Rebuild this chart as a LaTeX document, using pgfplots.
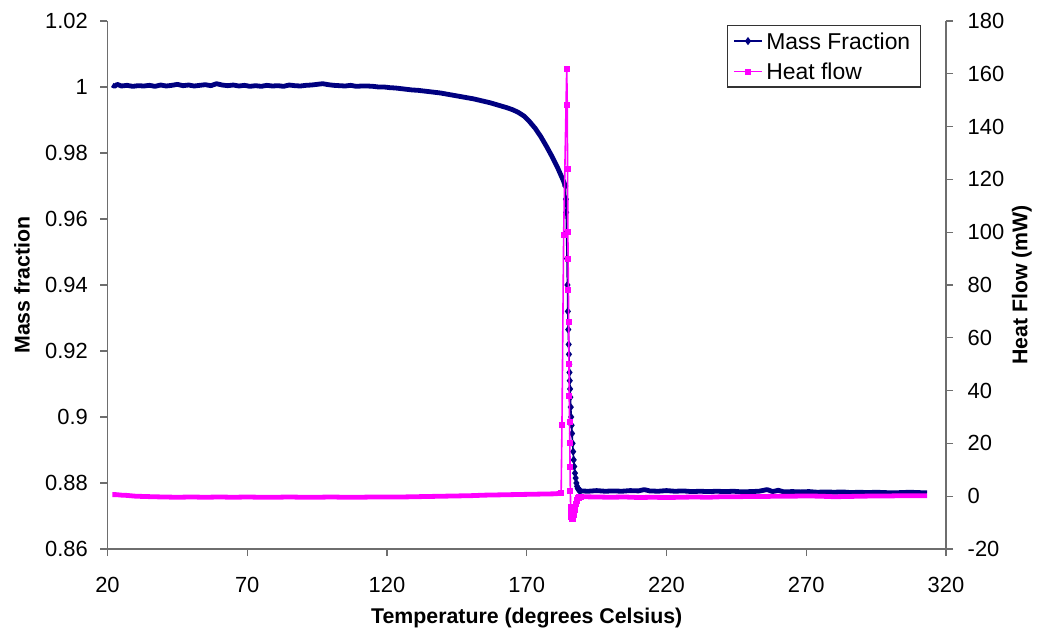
\documentclass[border=0pt]{standalone}
\usepackage{pgfplots}
\pgfplotsset{compat=1.18}
\usepackage{fontspec}
\setmainfont{Liberation Sans}
\definecolor{navy}{RGB}{0,0,128}
\definecolor{mag}{RGB}{255,0,255}
\definecolor{axgray}{RGB}{110,110,110}
\newcommand{\chartfont}{\fontsize{11}{13.2}\selectfont}
\newcommand{\labelfont}{\fontsize{10.7}{12.8}\selectfont\bfseries}
\newcommand{\legfont}{\fontsize{11.5}{13.8}\selectfont}
\begin{document}
\chartfont
\begin{tikzpicture}
\useasboundingbox (-53.75bp,-42bp) rectangle (464.75bp,274.5bp);
\pgfplotsset{
  base/.style={
    scale only axis, width=419.25bp, height=264bp,
    at={(0,0)}, anchor=south west,
    xmin=20, xmax=320,
    tick align=outside, major tick length=3.5bp,
    axis line style={-, axgray, line width=0.6bp},
    tick style={axgray, line width=0.6bp},
    tick label style={font=\chartfont, black},
    label style={font=\labelfont},
    /pgf/number format/assume math mode=true,
    clip=false,
  }
}
\begin{axis}[base,
  ymin=0.86, ymax=1.02,
  axis x line*=bottom, axis y line*=left,
  xtick={20,70,120,170,220,270,320},
  ytick={0.86,0.88,0.9,0.92,0.94,0.96,0.98,1,1.02},
  yticklabels={0.86,0.88,0.9,0.92,0.94,0.96,0.98,1,1.02},
  xticklabel style={yshift=-6.5bp},
  yticklabel style={xshift=-2.5bp},
  xlabel={Temperature (degrees Celsius)},
  ylabel={Mass fraction},
  xlabel style={at={(axis description cs:0.5,-0.1314)}, anchor=center},
  ylabel style={at={(axis description cs:-0.102,0.5)}, anchor=center},
]
% flat start (dense data, drawn as thick band)
\addplot[navy, line width=2.4bp, line join=round, forget plot] coordinates {
(21.7,1.0006) (22.5,1.0002) (23.5,1.0008) (25,1.0003) (27,1.0005) (29,1.0002)
(31,1.0004) (33,1.0003) (35,1.0005) (37,1.0002) (39,1.0006) (41,1.0003)
(43,1.0005) (45,1.0008) (47,1.0004) (49,1.0006) (51,1.0003) (53,1.0005)
(55,1.0007) (57,1.0004) (59,1.0010) (61,1.0006) (63,1.0004) (65,1.0006)
(67,1.0003) (69,1.0005) (71,1.0002) (73,1.0004) (75,1.0002) (77,1.0005)
(79,1.0003) (81,1.0004) (83,1.0002) (85,1.0006) (87,1.0004) (89,1.0003)
(91,1.0005) (93,1.0006) (95,1.0008) (97,1.0010) (99,1.0007) (101,1.0005)
(103,1.0004) (105,1.0003) (107,1.0005) (109,1.0002) (111,1.0003) (113,1.0003)
(115,1.0002) (117,1.0000) (119,1.0000) (121,0.9998) (123,0.9997) (125,0.9995)
(127,0.9993) (129,0.9991) (131,0.9990) (133,0.9988) (135,0.9986) (137,0.9984)
(139,0.9982) (141,0.9979) (143,0.9976) (145,0.9973) (147,0.9970) (149,0.9967)
(151,0.9964) (153,0.9960) (155,0.9956) (157,0.9952) (159,0.9947) (161,0.9942)
(163,0.9937) (165,0.9931) (167,0.9923) (169,0.9912) (171,0.9895) (173,0.9875)
(175,0.9850) (177,0.9821) (179,0.9790) (181,0.9756) (182,0.9737) (183,0.9718)
(183.8,0.9700)
};
% mass loss step (sparse data, thin line with marks)
\addplot[navy, line width=0.8bp, mark=diamond*, mark size=1.4bp, forget plot] coordinates {
(183.8,0.9700) (184.0,0.9660) (184.1,0.9620) (184.25,0.9560) (184.4,0.9480)
(184.55,0.9400) (184.7,0.9320) (184.85,0.9265) (185.0,0.9220) (185.1,0.9190)
(185.2,0.9160) (185.3,0.9135) (185.4,0.9110) (185.5,0.9085) (185.6,0.9060)
(185.75,0.9030) (185.9,0.9000) (186.05,0.8975) (186.2,0.8950) (186.4,0.8920)
(186.6,0.8895) (186.8,0.8870) (187.0,0.8850) (187.25,0.8830) (187.5,0.8815)
(187.75,0.8800) (188.0,0.8790) (188.25,0.8784) (188.5,0.8780) (188.85,0.8777)
(189.2,0.8776)
};
% flat end
\addplot[navy, line width=2.4bp, line join=round, forget plot] coordinates {
(189.2,0.8776) (192,0.8775) (195,0.8777) (198,0.8775) (201,0.8776) (204,0.8775)
(207,0.8777) (210,0.8776) (212,0.8780) (214,0.8776) (217,0.8775) (220,0.8777)
(223,0.8775) (226,0.8776) (229,0.8774) (232,0.8775) (235,0.8774) (238,0.8775)
(241,0.8774) (244,0.8775) (247,0.8773) (250,0.8774) (253,0.8775) (256,0.8780)
(258,0.8774) (260,0.8778) (262,0.8773) (265,0.8774) (268,0.8773) (271,0.8774)
(274,0.8772) (277,0.8773) (280,0.8772) (283,0.8773) (286,0.8771) (289,0.8772)
(292,0.8771) (295,0.8772) (298,0.8771) (301,0.8770) (304,0.8771) (307,0.8772)
(310,0.8771) (313.2,0.8770)
};
\end{axis}
\begin{axis}[base,
  ymin=-20, ymax=180,
  axis x line=none, axis y line*=right,
  ytick={-20,0,20,40,60,80,100,120,140,160,180},
  yticklabel style={xshift=3.5bp},
  ylabel={Heat Flow (mW)},
  ylabel style={at={(axis description cs:1.0906,0.5)}, anchor=center},
  legend style={at={(0.970,0.992)}, anchor=north east, draw=black!80, fill=white,
    font=\legfont, inner xsep=3bp, inner ysep=1.5bp, row sep=3bp, line width=0.6bp,
    nodes={text depth=0pt}},
  legend cell align=left,
  legend image code/.code={\draw[mark repeat=2,mark phase=2] plot coordinates {(0cm,0cm) (0.24cm,0cm) (0.48cm,0cm)};},
]
\addlegendimage{navy, line width=0.8bp, mark=diamond*, mark size=1.4bp}
\addlegendentry{Mass Fraction}
\addlegendimage{mag, line width=0.8bp, mark=square*, mark size=1.1bp}
\addlegendentry{Heat flow}
\addplot[mag, line width=2.4bp, line join=round, forget plot] coordinates {
(21.7,0.6) (23,0.6) (25,0.4) (27,0.3) (30,0.0) (33,-0.1) (36,-0.2) (40,-0.3)
(45,-0.4) (50,-0.3) (55,-0.4) (60,-0.3) (65,-0.4) (70,-0.3) (75,-0.4) (80,-0.4)
(85,-0.3) (90,-0.4) (95,-0.4) (100,-0.3) (105,-0.4) (110,-0.4) (115,-0.3)
(120,-0.3) (125,-0.3) (130,-0.2) (135,-0.1) (140,0.0) (145,0.1) (150,0.2)
(155,0.4) (160,0.5) (165,0.6) (170,0.7) (175,0.8) (180,0.9) (182.3,1.1)
};
\addplot[mag, line width=0.8bp, mark=square*, mark size=1.1bp, forget plot] coordinates {
(182.3,1.1) (182.6,27) (183.2,99) (184.3,162) (184.5,148) (184.6,124)
(184.7,100) (184.8,90) (184.9,78) (185.0,66) (185.1,50) (185.2,38)
(185.3,28) (185.4,20) (185.5,11) (185.6,2) (185.7,-4) (185.8,-6)
(185.9,-7) (186.0,-7.8) (186.1,-8.3) (186.25,-8.5) (186.4,-8.5) (186.55,-8.3)
(186.7,-8.0) (186.85,-7.3) (187.0,-6.5) (187.2,-5.2) (187.4,-4.0) (187.6,-3.0)
(187.8,-2.0) (188.05,-1.3) (188.3,-0.8) (188.55,-0.5) (188.8,-0.3) (189.3,-0.2)
};
\addplot[mag, line width=2.4bp, line join=round, forget plot] coordinates {
(189.3,-0.2) (195,-0.3) (200,-0.4) (205,-0.3) (210,-0.5) (215,-0.4) (220,-0.5)
(225,-0.4) (230,-0.3) (235,-0.4) (240,-0.2) (245,-0.2) (250,-0.1) (255,-0.1)
(260,0.0) (265,0.0) (270,0.1) (275,0.0) (280,-0.2) (285,-0.1) (290,0.0)
(295,0.1) (300,0.1) (305,0.2) (310,0.2) (313.2,0.2)
};
\end{axis}
\end{tikzpicture}
\end{document}
